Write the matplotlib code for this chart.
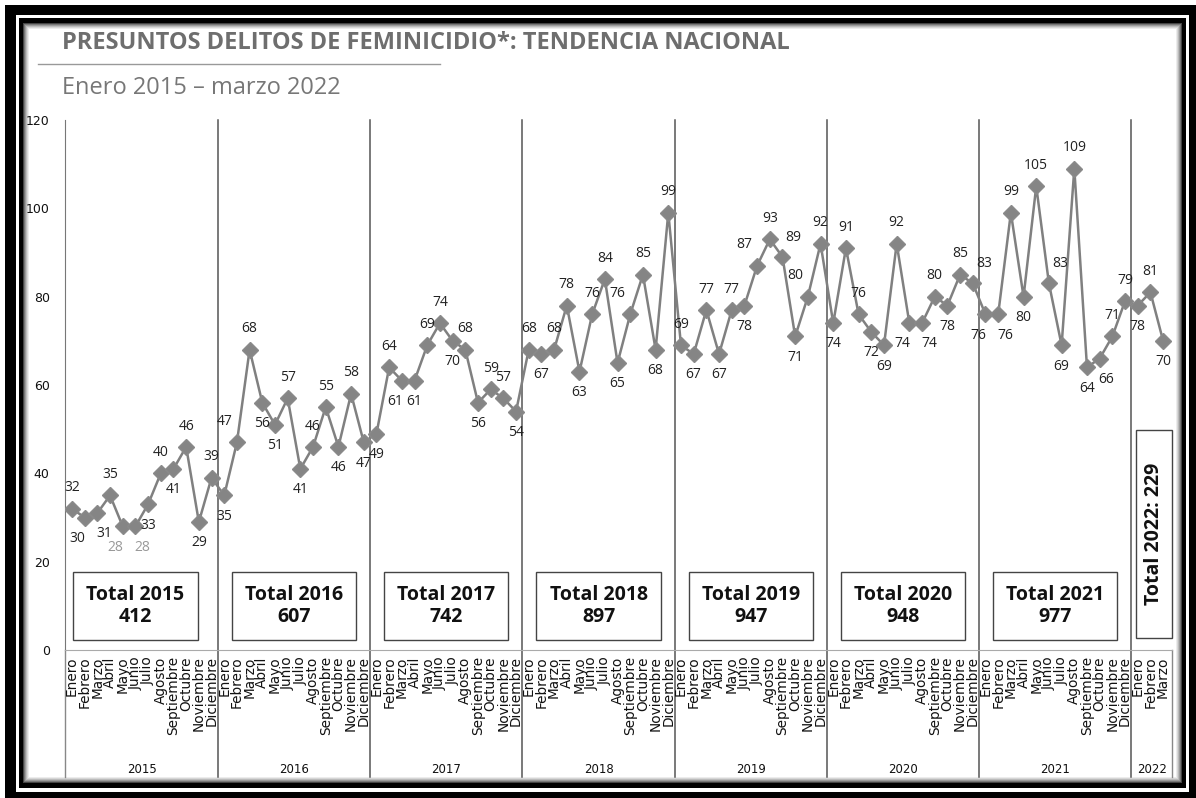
import matplotlib
matplotlib.use("Agg")
import matplotlib.pyplot as plt
from matplotlib.patches import Rectangle
from matplotlib.lines import Line2D

# monthly values, Jan 2015 - Mar 2022
years = ["2015", "2016", "2017", "2018", "2019", "2020", "2021", "2022"]
months = ["Enero", "Febrero", "Marzo", "Abril", "Mayo", "Junio", "Julio",
          "Agosto", "Septiembre", "Octubre", "Noviembre", "Diciembre"]
v2015 = [32, 30, 31, 35, 28, 28, 33, 40, 41, 46, 29, 39]
v2016 = [35, 47, 68, 56, 51, 57, 41, 46, 55, 46, 58, 47]
v2017 = [49, 64, 61, 61, 69, 74, 70, 68, 56, 59, 57, 54]
v2018 = [68, 67, 68, 78, 63, 76, 84, 65, 76, 85, 68, 99]
v2019 = [69, 67, 77, 67, 77, 78, 87, 93, 89, 71, 80, 92]
v2020 = [74, 91, 76, 72, 69, 92, 74, 74, 80, 78, 85, 83]
v2021 = [76, 76, 99, 80, 105, 83, 69, 109, 64, 66, 71, 79]
v2022 = [78, 81, 70]
totals = [412, 607, 742, 897, 947, 948, 977]
total_2022 = 229

series = [v2015, v2016, v2017, v2018, v2019, v2020, v2021, v2022]
values = [v for yr in series for v in yr]
month_labels = [months[i % 12] for i in range(len(values))]
x = list(range(len(values)))

# label placement: a above, b below, L/R upper-left/right, l/r lower-left/right
placement = ("alralrbababa" "bLabbabaabab" "balbaababaab" "abaabaabLaba"
             "abababLaRbLa" "baabbalrabaR" "lrabaRbabraa" "bab")

W, H = 1196, 798
fig = plt.figure(figsize=(W / 100, H / 100), dpi=100)
fig.patch.set_facecolor("white")


def px_rect(x0, y0, x1, y1, **kw):
    r = Rectangle((x0 / W, 1 - y1 / H), (x1 - x0) / W, (y1 - y0) / H,
                  transform=fig.transFigure, **kw)
    fig.add_artist(r)


# frame with inner shadow
px_rect(5, 5, 1196, 798, facecolor="black", edgecolor="none", zorder=-10)
px_rect(16, 15, 1189, 792, facecolor="white", edgecolor="none", zorder=-9)
px_rect(19, 18, 1186, 788, facecolor="black", edgecolor="none", zorder=-8)
shades = ["#444", "#777", "#9a9a9a", "#bbb", "#d6d6d6", "#ececec", "white"]
for i, c in enumerate(shades):
    px_rect(23 + i, 23 + i, 1182 - i, 783 - i, facecolor=c, edgecolor="none",
            zorder=-7 + i * 0.1)

title_font = "Open Sans"
fig.text(62 / W, 1 - 43 / H, "PRESUNTOS DELITOS DE FEMINICIDIO*: TENDENCIA NACIONAL",
         fontsize=17, fontweight="bold", color="#6e6e6e", family=title_font,
         va="center", ha="left")
fig.add_artist(Line2D([38 / W, 440 / W], [1 - 64 / H, 1 - 64 / H],
                      transform=fig.transFigure, color="#999999", lw=1))
fig.text(62 / W, 1 - 88 / H, "Enero 2015 – marzo 2022", fontsize=17,
         color="#777777", family=title_font, va="center", ha="left")

ax = fig.add_axes([65 / W, 1 - 650 / H, (1172 - 65) / W, 530 / H])
ax.set_xlim(-0.55, 86.7)
ax.set_ylim(0, 120)
ax.set_facecolor("none")
for s in ["top", "right"]:
    ax.spines[s].set_visible(False)
ax.spines["left"].set_color("#777777")
ax.spines["bottom"].set_color("#aaaaaa")
ax.set_yticks(range(0, 121, 20))
ax.tick_params(axis="y", length=0, pad=11, labelsize=9, labelcolor="#111")
ax.set_xticks([])

ax.plot(x, values, color="#808080", lw=1.8, marker="D", markersize=8,
        markerfacecolor="#858585", markeredgecolor="#8a8a8a", zorder=3)

offsets = {"a": (0, 15), "b": (0, -15), "L": (-9, 15), "R": (8, 14),
           "l": (-5, -15), "r": (5, -15)}
for i, v in enumerate(values):
    dx, dy = offsets[placement[i]]
    col = "#999999" if (i in (4, 5)) else "#222222"
    ax.annotate(str(v), (i, v), xytext=(dx, dy), textcoords="offset points",
                ha="center", va="center", fontsize=10, color=col,
                family=title_font, zorder=4)

# year separators and the category table under the axis
trans = ax.get_xaxis_transform()
bottom = -0.24
for k in range(1, 8):
    xs = 12 * k - 0.5
    ax.plot([xs, xs], [bottom, 1.0], transform=trans, color="#555555",
            lw=1.1, clip_on=False, zorder=2)
for xs in ax.get_xlim():
    ax.plot([xs, xs], [bottom, 0], transform=trans, color="#888888",
            lw=1, clip_on=False)

for i, m in enumerate(month_labels):
    ax.text(i, -0.012, m, transform=trans, rotation=90, ha="center", va="top",
            fontsize=9.8, color="#111111")

for k, yr in enumerate(years):
    x0 = max(12 * k - 0.5, ax.get_xlim()[0])
    x1 = min(12 * k + 11.5, ax.get_xlim()[1])
    ax.text((x0 + x1) / 2, -0.226, yr, transform=trans, ha="center",
            va="center", fontsize=8.5, color="#111111")

# total boxes
for k, t in enumerate(totals):
    cx = 12 * k + (5.0 if k == 0 else 5.5)
    ax.add_patch(Rectangle((cx - 4.9, 2.3), 9.8, 15.4, facecolor="white",
                           edgecolor="#444444", lw=1, zorder=5))
    ax.text(cx, 10, f"Total {years[k]}\n{t}", ha="center", va="center",
            fontsize=14, fontweight="bold", color="#111111", family=title_font,
            linespacing=1.1, zorder=6)

ax.add_patch(Rectangle((83.85, 2.7), 2.85, 47.1, facecolor="white",
                       edgecolor="#444444", lw=1, zorder=5, clip_on=False))
ax.text(85.3, 26.3, f"Total {years[-1]}: {total_2022}", rotation=90,
        ha="center", va="center", fontsize=14, fontweight="bold",
        color="#111111", family=title_font, zorder=6)

fig.savefig("out.png", dpi=100)
